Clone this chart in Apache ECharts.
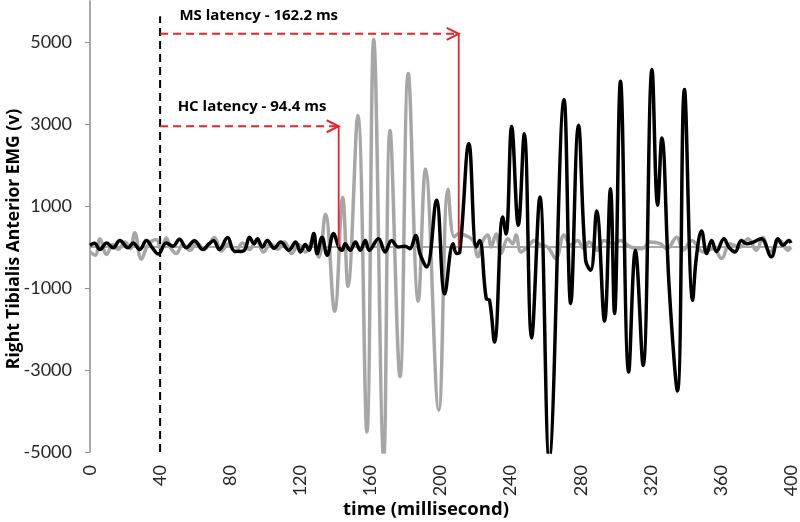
<!DOCTYPE html>
<html>
<head>
<meta charset="utf-8">
<script src="https://cdn.jsdelivr.net/npm/echarts@6/dist/echarts.min.js"></script>
<style>
  html, body { margin: 0; padding: 0; background: #fff; }
  #main { width: 800px; height: 522px; }
</style>
</head>
<body>
<!-- chart container -->
<div id="main"></div>
<script>
var xTicks = [0, 40, 80, 120, 160, 200, 240, 280, 320, 360, 400];
var yTicks = [-5000, -3000, -1000, 1000, 3000, 5000];

// HC (grey) trace
var hcTime = [0,3,5.7,9.5,13,16,20,23,25.5,29.3,
  33,37.8,40.5,43.5,46,49.2,53,57,61,65,
  68,71,75,79,83,87,91,95,99,103,
  107,111,115,119,123,127,130.5,134.3,139.6,144.2,
  147.2,152.8,158,161.9,167.6,171.2,176.9,181.6,187.3,191.4,
  199,204.3,207.8,210.6,213.8,218.5,221.3,224.2,227,228.9,
  231.7,234.6,238.4,241.2,243.1,245.9,249.7,253.5,257.3,261.1,
  265.8,270.5,274.3,278.1,281.9,284.7,289.4,293.2,298.9,302.7,
  308.4,315,319.7,325.4,329.2,334.8,338.6,343.4,350,355.7,
  360.4,365.1,370.8,375.5,380.2,384,387.8,393.5,398.2,400];
var hcEmg = [-120,-200,200,-180,60,-60,120,-40,350,-300,
  40,180,-60,220,-20,-160,60,-80,100,-60,
  60,230,-100,80,-120,100,-60,160,-120,80,
  -60,120,-160,60,-120,150,-250,800,-1570,1210,
  -960,3210,-4510,5070,-5150,2840,-3160,4230,-1320,1900,
  -3980,1410,250,330,290,160,-240,160,290,0,
  320,-160,200,80,290,-120,0,160,40,0,
  -280,290,40,160,-40,120,-80,160,80,160,
  0,-40,120,80,-40,240,-80,160,-120,-40,
  -280,80,0,200,-80,240,-120,160,-80,0];

// MS (black) trace
var msTime = [0,2.5,5.7,9.5,13.2,17,21.7,24.6,28.4,32.2,
  35.9,39,43.5,47.3,51.1,54.9,59.6,64.3,68,70.5,
  73.8,78.5,82.3,86,88.5,91,93.6,95.5,98.4,101.2,
  105,108.8,113.5,117.3,120.1,122.8,124.9,127.7,129.6,132.4,
  135.3,139,141.9,143.8,145.6,148.5,151.4,154.2,157.1,159.3,
  164.6,168.4,172.1,175.9,179.7,182.5,185.8,188.3,192.1,197.7,
  202.4,207.2,209.1,211,216.2,220.4,222.3,226.1,228,230.8,
  235.5,237.4,240.6,244.4,247.8,252,256.7,262,270.5,274.3,
  278.7,282.8,285.7,289.1,293.6,297,299.3,302.7,307.4,311.2,
  315.6,320.7,323.9,326.3,330.5,335.2,339.2,343.9,346,349,
  351.9,354.7,357.5,361.7,364.5,368,371.7,374.6,377.4,383,
  388.8,392.6,395.4,398.8,400];
var msEmg = [40,90,-60,100,-20,160,-20,100,-60,160,
  -40,-170,100,20,190,-20,150,-60,80,150,
  -60,230,-100,-110,-60,240,80,200,0,160,
  -30,120,-80,120,-120,60,-80,330,-160,240,
  -200,330,0,-80,80,-80,120,-80,160,-80,
  200,-120,160,0,20,-40,280,-160,-490,1140,
  -1140,80,-160,-120,2520,0,160,-1260,-1300,-2320,
  730,320,2940,530,2760,-2220,1220,-5150,3590,-1380,
  2970,-320,-570,880,-1810,1420,-1620,4040,-3050,-80,
  -2890,4330,1020,2660,-1000,-3510,3840,-1300,-250,390,
  -160,160,-110,200,0,-120,160,80,100,200,
  -240,200,40,160,100];

// annotations
var onsetTime = 40;
var onsetRange = [-5000, 5630];
var latencyText = ['HC latency - 94.4 ms', 'MS latency - 162.2 ms'];
var latencyEnd = [141.9, 210.4];
var latencyLevel = [2945, 5200];
var latencyTextAt = [[50, 3415], [51, 5650]];

var red = '#e8232a';

function pairs(xs, ys) {
  var out = [];
  for (var i = 0; i < xs.length; i++) out.push([xs[i], ys[i]]);
  return out;
}

var chart = echarts.init(document.getElementById('main'));

var series = [
  {
    name: 'zero', type: 'line', silent: true, symbol: 'none',
    data: [[xTicks[0], 0], [xTicks[xTicks.length - 1], 0]],
    lineStyle: { color: '#8c8c8c', width: 1.5 }
  },
  {
    name: 'HC', type: 'line', symbol: 'none', smooth: 0.4,
    data: pairs(hcTime, hcEmg),
    lineStyle: { color: '#a6a6a6', width: 3.5 }
  },
  {
    name: 'MS', type: 'line', symbol: 'none', smooth: 0.4,
    data: pairs(msTime, msEmg),
    lineStyle: { color: '#000', width: 3.5 }
  },
  {
    name: 'onset', type: 'line', symbol: 'none', silent: true,
    data: [[onsetTime, onsetRange[0]], [onsetTime, onsetRange[1]]],
    lineStyle: { color: '#000', width: 2, type: [8, 5] }
  }
];
for (var i = 0; i < latencyEnd.length; i++) {
  series.push({
    type: 'line', symbol: 'none', silent: true,
    data: [[onsetTime, latencyLevel[i]], [latencyEnd[i], latencyLevel[i]]],
    lineStyle: { color: red, width: 2, type: [8, 5] }
  });
  series.push({
    type: 'line', symbol: 'none', silent: true,
    data: [[latencyEnd[i], latencyLevel[i]], [latencyEnd[i], 0]],
    lineStyle: { color: red, width: 1.8 }
  });
}

chart.setOption({
  animation: false,
  backgroundColor: '#fff',
  grid: { left: 90, right: 5, top: 1, bottom: 70, containLabel: false },
  xAxis: {
    type: 'value', min: 0, max: 400, interval: 40,
    axisLine: { show: false },
    axisTick: { show: false },
    splitLine: { show: false },
    axisLabel: {
      rotate: 90, margin: 13, color: '#262626',
      fontFamily: 'Lato', fontSize: 18
    }
  },
  yAxis: {
    type: 'value', min: -5000, max: 6000,
    axisLine: { show: true, lineStyle: { color: '#8c8c8c', width: 1.5 } },
    axisTick: { show: true, length: 5, customValues: yTicks, lineStyle: { color: '#8c8c8c' } },
    splitLine: { show: false },
    axisLabel: {
      customValues: yTicks, margin: 18, color: '#262626',
      fontFamily: 'Lato', fontSize: 18,
      formatter: function (v) { return String(v); }
    }
  },
  series: series
});

// titles, latency labels and arrow heads
var g = [
  {
    type: 'text', x: 14, y: 239, rotation: Math.PI / 2,
    style: { text: 'Right Tibialis Anterior EMG (v)', font: 'bold 17.5px "Open Sans"', fill: '#000', align: 'center', verticalAlign: 'middle' }
  },
  {
    type: 'text', x: 426, y: 510,
    style: { text: 'time (millisecond)', font: 'bold 18.5px "Open Sans"', fill: '#000', align: 'center', verticalAlign: 'middle' }
  }
];
for (var j = 0; j < latencyEnd.length; j++) {
  var tip = chart.convertToPixel({ gridIndex: 0 }, [latencyEnd[j], latencyLevel[j]]);
  g.push({
    type: 'polyline', silent: true,
    shape: { points: [[tip[0] - 12, tip[1] - 6], [tip[0], tip[1]], [tip[0] - 12, tip[1] + 6]] },
    style: { stroke: red, lineWidth: 2, fill: null }
  });
  var tp = chart.convertToPixel({ gridIndex: 0 }, latencyTextAt[j]);
  g.push({
    type: 'text', x: tp[0], y: tp[1],
    style: { text: latencyText[j], font: 'bold 15px "Open Sans"', fill: '#000', align: 'left', verticalAlign: 'middle' }
  });
}
chart.setOption({ graphic: g });
</script>
</body>
</html>
